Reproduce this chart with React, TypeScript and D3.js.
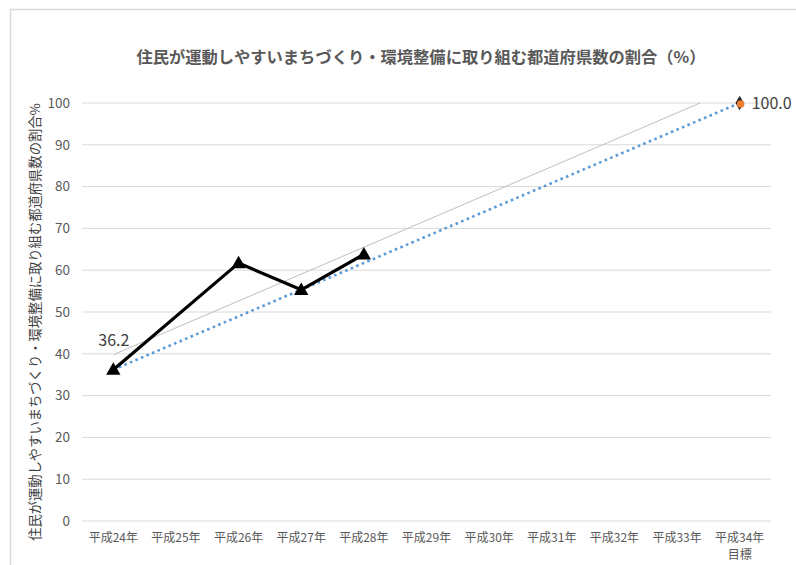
import React from "react";
import * as d3 from "d3";

const categories = ["平成24年", "平成25年", "平成26年", "平成27年", "平成28年", "平成29年", "平成30年", "平成31年", "平成32年", "平成33年", "平成34年"];
const subLabels = ["", "", "", "", "", "", "", "", "", "", "目標"];
const actualValues: (number | null)[] = [36.2, null, 61.7, 55.3, 63.8, null, null, null, null, null, null];
const targetValues: (number | null)[] = [36.2, null, null, null, null, null, null, null, null, null, 100.0];
const yTicks = [0, 10, 20, 30, 40, 50, 60, 70, 80, 90, 100];
const title = "住民が運動しやすいまちづくり・環境整備に取り組む都道府県数の割合（%）";
const yTitle = "住民が運動しやすいまちづくり・環境整備に取り組む都道府県数の割合%";

const W = 796, H = 565;
const plotL = 82, plotR = 771, plotT = 103, plotB = 521;
const FONT = "'Noto Sans CJK JP', 'Noto Sans', sans-serif";

export default function App() {
  const x = d3.scaleBand<string>().domain(categories).range([plotL, plotR]).padding(0);
  const cx = (i: number) => (x(categories[i]) as number) + x.bandwidth() / 2;
  const y = d3.scaleLinear().domain([0, 100]).range([plotB, plotT]);

  const actualPts = actualValues.map((v, i) => ({ i, v })).filter((d) => d.v !== null) as { i: number; v: number }[];
  const targetPts = targetValues.map((v, i) => ({ i, v })).filter((d) => d.v !== null) as { i: number; v: number }[];

  const line = d3.line<{ i: number; v: number }>().x((d) => cx(d.i)).y((d) => y(d.v));

  // linear trendline (least squares) of the actual series
  const mx = d3.mean(actualPts, (d) => d.i) as number;
  const my = d3.mean(actualPts, (d) => d.v) as number;
  const sxy = d3.sum(actualPts, (d) => (d.i - mx) * (d.v - my));
  const sxx = d3.sum(actualPts, (d) => (d.i - mx) ** 2);
  const slope = sxy / sxx;
  const intercept = my - slope * mx;
  const trendPts = [0, categories.length - 1].map((i) => ({ i, v: intercept + slope * i }));

  const tri = d3.symbol().type(d3.symbolTriangle).size(90)();

  const first = actualPts[0];
  const last = targetPts[targetPts.length - 1];

  return (
    <svg width={W} height={H} style={{ position: "absolute", left: 0, top: 0, background: "#fff" }}>
      <defs>
        <clipPath id="plotclip">
          <rect x={plotL} y={plotT} width={plotR - plotL} height={plotB - plotT} />
        </clipPath>
      </defs>
      <rect x={10.5} y={9.5} width={W} height={H} fill="#fff" stroke="#d9d9d9" strokeWidth={1.5} />
      <text x={421} y={63} textAnchor="middle" fontFamily={FONT} fontSize={16.3} fontWeight="bold" fill="#595959">
        {title}
      </text>
      {yTicks.map((t) => (
        <g key={t}>
          <line x1={plotL} x2={plotR} y1={y(t)} y2={y(t)} stroke="#d9d9d9" strokeWidth={1} />
          <text x={70} y={y(t)} dy="0.35em" textAnchor="end" fontFamily={FONT} fontSize={13.5} fill="#595959">
            {t}
          </text>
        </g>
      ))}
      <text
        transform={`translate(35,${(plotT + plotB) / 2 + 10}) rotate(-90)`}
        textAnchor="middle"
        dy="0.35em"
        fontFamily={FONT}
        fontSize={13.3}
        fill="#404040"
      >
        {yTitle}
      </text>
      {categories.map((c, i) => (
        <g key={c}>
          <text x={cx(i)} y={542} textAnchor="middle" fontFamily={FONT} fontSize={12} fill="#595959">
            {c}
          </text>
          {subLabels[i] && (
            <text x={cx(i)} y={559} textAnchor="middle" fontFamily={FONT} fontSize={12} fill="#595959">
              {subLabels[i]}
            </text>
          )}
        </g>
      ))}
      <path d={line(trendPts) as string} clipPath="url(#plotclip)" fill="none" stroke="#bfbfbf" strokeWidth={1} />
      <path d={line(targetPts) as string} fill="none" stroke="#5b9bd5" strokeWidth={2.6} strokeDasharray="2.6 3.4" />
      <path d={line(actualPts) as string} fill="none" stroke="#000" strokeWidth={3.2} strokeLinejoin="round" />
      {actualPts.map((d) => (
        <path key={d.i} d={tri as string} transform={`translate(${cx(d.i)},${y(d.v) + 1})`} fill="#000" />
      ))}
      <path d={d3.symbol().type(d3.symbolDiamond).size(60)() as string} transform={`translate(${cx(last.i)},${y(last.v)})`} fill="#222" />
      <circle cx={cx(last.i) + 1} cy={y(last.v) + 1} r={3.8} fill="#ed7d31" />
      <text x={cx(first.i) - 15} y={y(first.v) - 29} dy="0.35em" fontFamily={FONT} fontSize={16} fill="#404040">
        {first.v.toFixed(1)}
      </text>
      <text x={cx(last.i) + 12} y={y(last.v)} dy="0.35em" fontFamily={FONT} fontSize={16} fill="#404040">
        {last.v.toFixed(1)}
      </text>
    </svg>
  );
}
